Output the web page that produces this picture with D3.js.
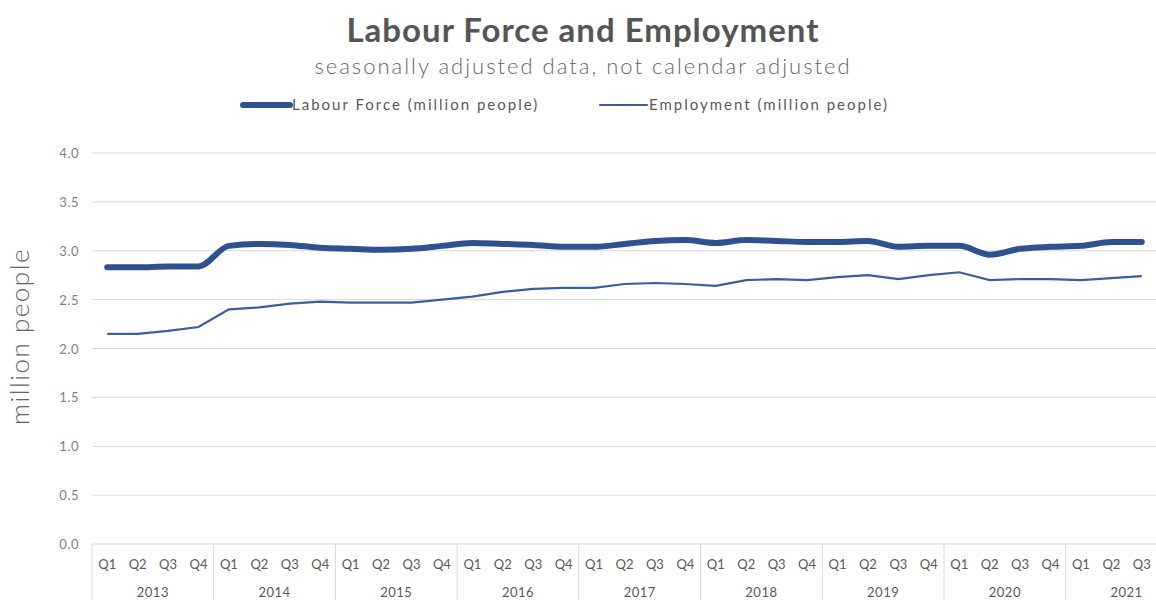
<!DOCTYPE html>
<html>
<head>
<meta charset="utf-8">
<script src="https://cdn.jsdelivr.net/npm/d3@7"></script>
<style>
  body { margin: 0; background: #fff; }
  svg { display: block; }
</style>
</head>
<body>
<div id="chart"></div>
<script>
// data
var years = ["2013", "2014", "2015", "2016", "2017", "2018", "2019", "2020", "2021"];
var quarterNames = ["Q1", "Q2", "Q3", "Q4"];
var labourForce = [2.83, 2.83, 2.84, 2.84, 3.05, 3.07, 3.06, 3.03, 3.02, 3.01, 3.02, 3.05,
  3.08, 3.07, 3.06, 3.04, 3.04, 3.07, 3.10, 3.11, 3.08, 3.11, 3.10, 3.09,
  3.09, 3.10, 3.04, 3.05, 3.05, 2.96, 3.02, 3.04, 3.05, 3.09, 3.09];
var employment = [2.15, 2.15, 2.18, 2.22, 2.40, 2.42, 2.46, 2.48, 2.47, 2.47, 2.47, 2.50,
  2.53, 2.58, 2.61, 2.62, 2.62, 2.66, 2.67, 2.66, 2.64, 2.70, 2.71, 2.70,
  2.73, 2.75, 2.71, 2.75, 2.78, 2.70, 2.71, 2.71, 2.70, 2.72, 2.74];
var yTicks = [0, 0.5, 1, 1.5, 2, 2.5, 3, 3.5, 4];

// build the quarter list (2021 only up to Q3)
var periods = [];
years.forEach(function(y) {
  quarterNames.forEach(function(q) {
    if (periods.length < labourForce.length) periods.push({ year: y, q: q, key: y + q });
  });
});

var svgWidth = 1156;
var svgHeight = 600;
var margin = { top: 153, left: 92, bottom: 56 };
var plotRight = 1157;
var height = svgHeight - margin.top - margin.bottom;

var svg = d3.select("#chart").append("svg")
  .attr("width", svgWidth)
  .attr("height", svgHeight)
  .style("font-family", "Lato, 'Open Sans', sans-serif");

var x = d3.scaleBand()
  .domain(periods.map(d => d.key))
  .range([margin.left, plotRight]);

var y = d3.scaleLinear()
  .domain([0, 4])
  .range([margin.top + height, margin.top]);

// gridlines
svg.append("g").selectAll("line")
  .data(yTicks.slice(1))
  .enter().append("line")
  .attr("x1", margin.left).attr("x2", svgWidth)
  .attr("y1", d => y(d)).attr("y2", d => y(d))
  .attr("stroke", "#d9d9d9").attr("stroke-width", 1);

// y tick labels
svg.append("g").selectAll("text")
  .data(yTicks)
  .enter().append("text")
  .attr("x", 79)
  .attr("y", d => y(d) + 5)
  .attr("text-anchor", "end")
  .attr("fill", "#7f7f7f")
  .style("font-size", "13px")
  .style("letter-spacing", "0.5px")
  .text(d => d.toFixed(1));

// y axis title
svg.append("text")
  .attr("transform", "translate(29," + (margin.top + height / 2 - 12) + ") rotate(-90)")
  .attr("text-anchor", "middle")
  .attr("fill", "#666")
  .style("font-size", "26px")
  .style("font-weight", "300")
  .style("letter-spacing", "1.5px")
  .text("million people");

// x axis: base line, quarter labels, year separators and labels
var base = y(0);
svg.append("line")
  .attr("x1", margin.left).attr("x2", svgWidth)
  .attr("y1", base).attr("y2", base)
  .attr("stroke", "#d9d9d9");

svg.append("g").selectAll("text")
  .data(periods)
  .enter().append("text")
  .attr("x", d => x(d.key) + x.bandwidth() / 2)
  .attr("y", base + 25)
  .attr("text-anchor", "middle")
  .attr("fill", "#595959")
  .style("font-size", "13px")
  .text(d => d.q);

var yearGroups = d3.groups(periods, d => d.year);
svg.append("g").selectAll("line")
  .data(yearGroups)
  .enter().append("line")
  .attr("x1", d => x(d[1][0].key)).attr("x2", d => x(d[1][0].key))
  .attr("y1", base).attr("y2", svgHeight)
  .attr("stroke", "#d9d9d9");

svg.append("g").selectAll("text")
  .data(yearGroups)
  .enter().append("text")
  .attr("x", d => x(d[1][0].key) + x.bandwidth() * 2)
  .attr("y", base + 53)
  .attr("text-anchor", "middle")
  .attr("fill", "#595959")
  .style("font-size", "13px")
  .style("letter-spacing", "0.5px")
  .text(d => d[0]);

// lines
var lfLine = d3.line()
  .x((d, i) => x(periods[i].key) + x.bandwidth() / 2)
  .y(d => y(d))
  .curve(d3.curveMonotoneX);

var empLine = d3.line()
  .x((d, i) => x(periods[i].key) + x.bandwidth() / 2)
  .y(d => y(d));

svg.append("path")
  .datum(employment)
  .attr("d", empLine)
  .attr("fill", "none")
  .attr("stroke", "#3b5f9b")
  .attr("stroke-width", 2.2);

svg.append("path")
  .datum(labourForce)
  .attr("d", lfLine)
  .attr("fill", "none")
  .attr("stroke", "#2f5191")
  .attr("stroke-width", 6)
  .attr("stroke-linecap", "round")
  .attr("stroke-linejoin", "round");

// title
svg.append("text")
  .attr("x", 583).attr("y", 42)
  .attr("text-anchor", "middle")
  .attr("fill", "#555")
  .style("font-size", "33px")
  .style("font-weight", "bold")
  .style("letter-spacing", "1px")
  .text("Labour Force and Employment");

svg.append("text")
  .attr("x", 583).attr("y", 74)
  .attr("text-anchor", "middle")
  .attr("fill", "#666")
  .style("font-size", "22px")
  .style("font-weight", "300")
  .style("letter-spacing", "2px")
  .text("seasonally adjusted data, not calendar adjusted");

// legend
var legend = [
  { name: "Labour Force (million people)", x: 243, w: 6, color: "#2f5191" },
  { name: "Employment (million people)", x: 600, w: 2.2, color: "#3b5f9b" }
];
var lg = svg.append("g").selectAll("g")
  .data(legend)
  .enter().append("g");
lg.append("line")
  .attr("x1", d => d.x).attr("x2", d => d.x + 47)
  .attr("y1", 105).attr("y2", 105)
  .attr("stroke", d => d.color)
  .attr("stroke-width", d => d.w)
  .attr("stroke-linecap", "round");
lg.append("text")
  .attr("x", d => d.x + 49)
  .attr("y", 110)
  .attr("fill", "#595959")
  .style("font-size", "15px")
  .style("letter-spacing", "2px")
  .text(d => d.name);
</script>
</body>
</html>
